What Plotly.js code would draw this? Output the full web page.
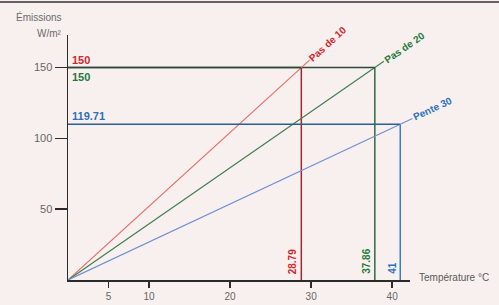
<!DOCTYPE html>
<html>
<head>
<meta charset="utf-8">
<script src="https://cdn.plot.ly/plotly-3.0.1.min.js"></script>
<style>html,body{margin:0;padding:0;background:#f8f0ee;}#chart{width:499px;height:305px;}</style>
</head>
<body>
<div id="chart"></div>
<script>
// ---- data ----
const seriesNames = ['Pas de 10', 'Pas de 20', 'Pente 30'];
const tempEnd = [28.79, 37.86, 41];
const emissionEnd = [150, 150, 110];
const emissionLabels = ['150', '150', '119.71'];
const tempLabels = ['28.79', '37.86', '41'];
const xTickVals = [5, 10, 20, 30, 40];
const xTickText = ['5', '10', '20', '30', '40'];
const yTickVals = [50, 100, 150];
const yTickText = ['50', '100', '150'];

// ---- styles ----
const diagColors = ['#e2706c', '#3f7f52', '#7090d4'];
const vertColors = ['#9c2a30', '#2f6a40', '#3a7cc0'];
const horizColors = ['#2b4a3a', '#2b4a3a', '#2d5f8e'];
const textColors = ['#d1262d', '#1e7a3c', '#2a70bb'];
const FONT = 'Liberation Sans Narrow, Liberation Sans, Arial, sans-serif';

const W = 499, H = 305;
const M = {l: 68, r: 89, t: 35, b: 25};
const xRange = [0, 42.2];
const yRange = [0, 173];
const pxX = (W - M.l - M.r) / (xRange[1] - xRange[0]);
const pxY = (H - M.t - M.b) / (yRange[1] - yRange[0]);

const traces = [];
const annotations = [];
for (let i = 0; i < seriesNames.length; i++) {
  traces.push({x: [0, tempEnd[i]], y: [0, emissionEnd[i]], mode: 'lines',
    line: {color: diagColors[i], width: 1.2}, hoverinfo: 'skip', showlegend: false});
  traces.push({x: [0, tempEnd[i]], y: [emissionEnd[i], emissionEnd[i]], mode: 'lines',
    line: {color: horizColors[i], width: 1.5}, hoverinfo: 'skip', showlegend: false});
  traces.push({x: [tempEnd[i], tempEnd[i]], y: [0, emissionEnd[i]], mode: 'lines',
    line: {color: vertColors[i], width: 1.5}, hoverinfo: 'skip', showlegend: false});

  const ang = Math.atan2(emissionEnd[i] * pxY, tempEnd[i] * pxX);
  const D = 36;
  annotations.push({x: tempEnd[i], y: emissionEnd[i], xref: 'x', yref: 'y',
    text: '<b>' + seriesNames[i] + '</b>', showarrow: true, arrowhead: 0,
    arrowcolor: diagColors[i], arrowwidth: 1.2, standoff: 0,
    ax: D * Math.cos(ang), ay: -D * Math.sin(ang),
    textangle: -ang * 180 / Math.PI,
    font: {family: FONT, size: 10, color: textColors[i]}});

  annotations.push({x: 0, y: emissionEnd[i], xref: 'x', yref: 'y',
    text: '<b>' + emissionLabels[i] + '</b>', showarrow: false,
    xanchor: 'left', yanchor: i === 1 ? 'top' : 'bottom', xshift: 2,
    yshift: i === 1 ? -1 : 0,
    font: {family: FONT, size: 11, color: textColors[i]}});

  annotations.push({x: tempEnd[i], y: 0, xref: 'x', yref: 'y',
    text: '<b>' + tempLabels[i] + '</b>', showarrow: false, textangle: -90,
    xanchor: 'right', yanchor: 'bottom', xshift: -1, yshift: 4,
    font: {family: FONT, size: 10, color: textColors[i]}});
}

annotations.push({x: -0.012, y: 1.073, xref: 'paper', yref: 'paper', text: 'Émissions',
  showarrow: false, xanchor: 'right', yanchor: 'middle',
  font: {family: FONT, size: 10, color: '#6a6a6a'}});
annotations.push({x: -0.012, y: 1.008, xref: 'paper', yref: 'paper', text: 'W/m²',
  showarrow: false, xanchor: 'right', yanchor: 'middle',
  font: {family: FONT, size: 10, color: '#6a6a6a'}});
annotations.push({x: 1.02, y: 0.012, xref: 'paper', yref: 'paper', text: 'Température °C',
  showarrow: false, xanchor: 'left', yanchor: 'middle',
  font: {family: FONT, size: 10, color: '#5a5a5a'}});

const layout = {
  width: W, height: H,
  margin: M,
  paper_bgcolor: '#f8f0ee', plot_bgcolor: '#f8f0ee',
  showlegend: false,
  font: {family: FONT, color: '#666'},
  xaxis: {range: xRange, showgrid: false, zeroline: false, showline: true,
    linecolor: '#2b2b2b', linewidth: 1.5, ticks: 'outside', ticklen: 6, tickwidth: 1.5,
    tickcolor: '#2b2b2b', tickvals: xTickVals, ticktext: xTickText,
    tickfont: {family: FONT, size: 10, color: '#666'}, fixedrange: true},
  yaxis: {range: yRange, showgrid: false, zeroline: false, showline: true,
    linecolor: '#2b2b2b', linewidth: 1.5, ticks: 'outside', ticklen: 12, tickwidth: 1.5,
    tickcolor: '#2b2b2b', tickvals: yTickVals, ticktext: yTickText,
    tickfont: {family: FONT, size: 11, color: '#666'}, fixedrange: true},
  annotations: annotations,
  shapes: [
    {type: 'line', xref: 'paper', yref: 'paper', x0: -0.3, x1: 1.3, y0: 1.135, y1: 1.135,
     line: {color: '#333', width: 1.5}}
  ]
};

Plotly.newPlot('chart', traces, layout, {displayModeBar: false, staticPlot: true});
</script>
</body>
</html>
